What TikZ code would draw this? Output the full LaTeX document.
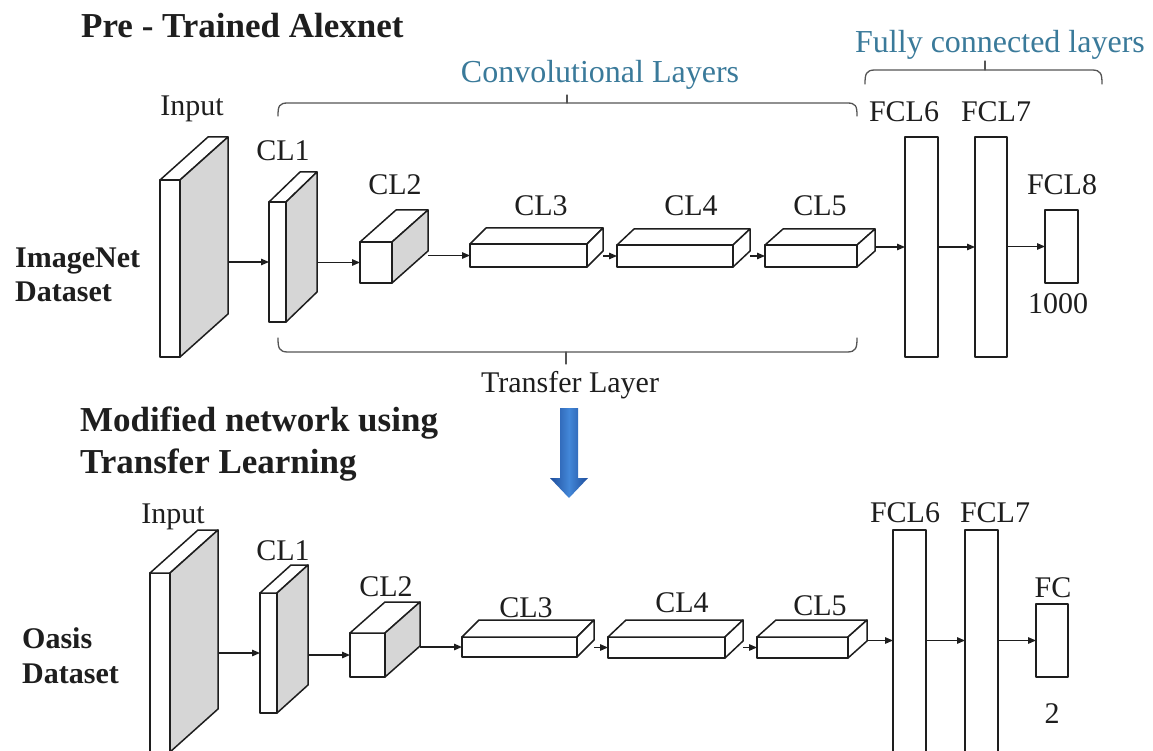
\documentclass[tikz,border=0pt]{standalone}
\usepackage{fontspec}
\setmainfont{Liberation Serif}
\usetikzlibrary{arrows.meta,calc}

\definecolor{ink}{HTML}{1E1E1E}
\definecolor{sidegray}{HTML}{D6D6D6}
\definecolor{capblue}{HTML}{3A7A9A}
\definecolor{arrowdark}{HTML}{1F4E9C}
\definecolor{arrowlight}{HTML}{4387D8}
\definecolor{bracegray}{HTML}{555555}

\tikzset{
  face/.style={draw=ink, line width=1.5pt, line join=round},
  front/.style={face, fill=white, inner sep=0pt, outer sep=0pt, anchor=north west},
  conn/.style={draw=ink, line width=1.3pt, -{Triangle[length=8pt,width=6.5pt]}},
  lab/.style={font=\fontsize{30}{36}\selectfont, text=ink, inner sep=0pt,
              text height=20pt, text depth=0pt},
  setname/.style={font=\bfseries\fontsize{30}{36}\selectfont, text=ink, inner sep=0pt,
              anchor=west, text height=20pt, text depth=0pt},
  heading/.style={font=\bfseries\fontsize{35}{42}\selectfont, text=ink, inner sep=0pt,
              anchor=west, text height=23pt, text depth=0pt},
  grouplab/.style={font=\fontsize{32}{38}\selectfont, text=capblue, inner sep=0pt,
              text height=21pt, text depth=0pt},
  brace/.style={draw=bracegray, line width=1.3pt, line cap=round}
}

% A layer drawn as a box: front face node, top face and right face.
% #1 name, #2 x, #3 y (top left of front face), #4 width, #5 height,
% #6 #7 depth offset, #8 fill of the right face
\newcommand\layerbox[8]{%
  \node[front, minimum width=#4pt, minimum height=#5pt] (#1) at (#2,#3) {};
  \draw[face, fill=white] (#1.north west) -- ++(#6,#7)
       -- ($(#1.north east)+(#6,#7)$) -- (#1.north east) -- cycle;
  \draw[face, fill=#8] (#1.north east) -- ++(#6,#7)
       -- ($(#1.south east)+(#6,#7)$) -- (#1.south east) -- cycle;
  \coordinate (#1-r) at ($(#1.east)+(#6,0)$);
}

\begin{document}
\begin{tikzpicture}[x=1pt,y=-1pt]
\useasboundingbox (0,0) rectangle (1153,751);
\fill[white] (0,0) rectangle (1153,751);
\clip (0,0) rectangle (1153,751);

% ---------- pre-trained network ----------
\node[heading] (title1) at (81,26) {Pre - Trained Alexnet};

\node[grouplab] (convlab) at (600,72) {Convolutional Layers};
\node[grouplab] (fclab) at (1000,42) {Fully connected layers};

\draw[brace] (278,116) .. controls (278,106) and (279,103) .. (288,103)
  -- (847,103) .. controls (856,103) and (857,106) .. (857,116);
\draw[brace] (567,103) -- (567,95);
\draw[brace] (865,84) .. controls (865,74) and (866,70) .. (875,70)
  -- (1092,70) .. controls (1101,70) and (1102,74) .. (1102,84);
\draw[brace] (985,70) -- (985,61);

\node[setname] (imnet) at (15,258) {ImageNet};
\node[setname] (imnet2) at (15,291) {Dataset};

\layerbox{in1}{160}{180}{20}{177}{48}{-43}{sidegray}
\layerbox{cl1a}{269}{202}{17}{120}{31}{-30}{sidegray}
\layerbox{cl2a}{360}{242}{32}{41}{36}{-32}{sidegray}
\layerbox{cl3a}{470}{244}{117}{23}{16}{-16}{white}
\layerbox{cl4a}{617}{245}{116}{22}{17}{-16}{white}
\layerbox{cl5a}{765}{245}{92}{22}{18}{-16}{white}
\node[front, minimum width=33pt, minimum height=220pt] (f6a) at (905,137) {};
\node[front, minimum width=32pt, minimum height=220pt] (f7a) at (975,137) {};
\node[front, minimum width=33pt, minimum height=73pt] (f8a) at (1045,210) {};

\node[lab] (tin1) at (192,106) {Input};
\node[lab] (tcl1a) at (283,151) {CL1};
\node[lab] (tcl2a) at (395,185) {CL2};
\node[lab] (tcl3a) at (541,206) {CL3};
\node[lab] (tcl4a) at (691,206) {CL4};
\node[lab] (tcl5a) at (820,206) {CL5};
\node[lab] (tf6a) at (904,112) {FCL6};
\node[lab] (tf7a) at (996,112) {FCL7};
\node[lab] (tf8a) at (1062,185) {FCL8};
\node[lab] (tn1000) at (1058,303) {1000};

\draw[conn] (in1-r |- cl1a.west) -- (cl1a.west);
\draw[conn] (cl1a-r |- cl2a.west) -- (cl2a.west);
\draw[conn] (cl2a-r |- cl3a.west) -- (cl3a.west);
\draw[conn] (cl3a-r |- cl4a.west) -- (cl4a.west);
\draw[conn] (cl4a-r |- cl5a.west) -- (cl5a.west);
\draw[conn] (cl5a-r |- f6a.west) -- (f6a.west);
\draw[conn] (f6a.east) -- (f7a.west);
\draw[conn] (f7a.east |- f8a.west) -- (f8a.west);

\draw[brace] (278,338) .. controls (278,348) and (279,352) .. (288,352)
  -- (847,352) .. controls (856,352) and (857,348) .. (857,338);
\draw[brace] (566,352) -- (566,364);
\node[lab] (ttrans) at (570,382) {Transfer Layer};

% ---------- transfer arrow ----------
\shade[left color=arrowdark, right color=arrowdark, middle color=arrowlight]
  (560,408) -- (578,408) -- (578,478) -- (588,478) -- (569,498)
  -- (550,478) -- (560,478) -- cycle;

% ---------- modified network ----------
\node[heading] (title2) at (80,420) {Modified network using};
\node[heading] (title3) at (80,462) {Transfer Learning};

\node[setname] (oasis) at (22,638) {Oasis};
\node[setname] (oasis2) at (22,673) {Dataset};

\layerbox{in2}{150}{573}{20}{179}{48}{-43}{sidegray}
\layerbox{cl1b}{260}{593}{17}{120}{31}{-28}{sidegray}
\layerbox{cl2b}{350}{633}{35}{44}{35}{-31}{sidegray}
\layerbox{cl3b}{462}{637}{115}{20}{17}{-17}{white}
\layerbox{cl4b}{608}{637}{117}{21}{18}{-17}{white}
\layerbox{cl5b}{757}{637}{91}{21}{19}{-17}{white}
\node[front, minimum width=33pt, minimum height=222pt] (f6b) at (893,530) {};
\node[front, minimum width=33pt, minimum height=222pt] (f7b) at (965,530) {};
\node[front, minimum width=32pt, minimum height=73pt] (fcb) at (1036,604) {};

\node[lab] (tin2) at (173,513) {Input};
\node[lab] (tcl1b) at (283,550) {CL1};
\node[lab] (tcl2b) at (386,586) {CL2};
\node[lab] (tcl3b) at (526,607) {CL3};
\node[lab] (tcl4b) at (682,602) {CL4};
\node[lab] (tcl5b) at (820,605) {CL5};
\node[lab] (tf6b) at (905,512) {FCL6};
\node[lab] (tf7b) at (995,512) {FCL7};
\node[lab] (tfc) at (1053,587) {FC};
\node[lab] (tn2) at (1052,713) {2};

\draw[conn] (in2-r |- cl1b.west) -- (cl1b.west);
\draw[conn] (cl1b-r |- cl2b.west) -- (cl2b.west);
\draw[conn] (cl2b-r |- cl3b.west) -- (cl3b.west);
\draw[conn] (cl3b-r |- cl4b.west) -- (cl4b.west);
\draw[conn] (cl4b-r |- cl5b.west) -- (cl5b.west);
\draw[conn] (cl5b-r |- fcb.west) -- (f6b.west |- fcb.west);
\draw[conn] (f6b.east |- fcb.west) -- (f7b.west |- fcb.west);
\draw[conn] (f7b.east |- fcb.west) -- (fcb.west);
\end{tikzpicture}
\end{document}
